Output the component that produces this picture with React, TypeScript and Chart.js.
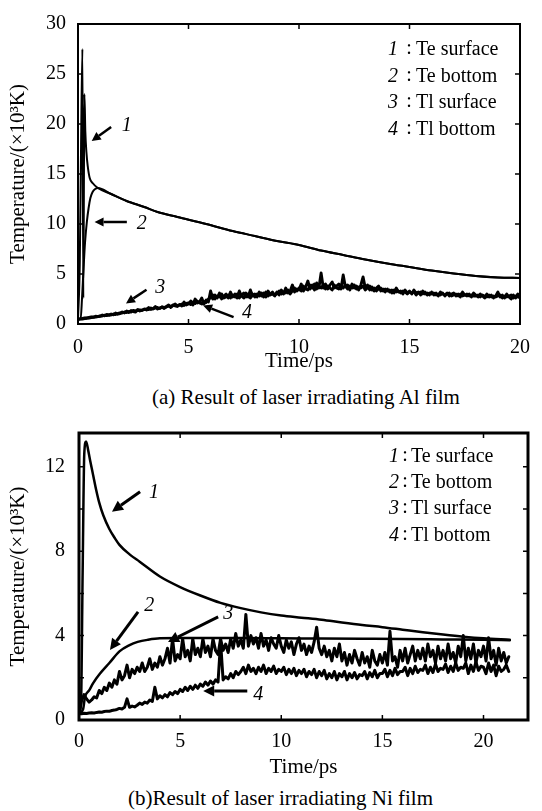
import React, { useEffect, useRef } from 'react';
import { Chart, registerables } from 'chart.js';

Chart.register(...registerables);

const FONT = '"Liberation Serif", "Times New Roman", serif';

// ---------- shared legend ----------
const LEGEND_NUMS = ['1', '2', '3', '4'];
const LEGEND_TEXTS = ['Te surface', 'Te bottom', 'Tl surface', 'Tl bottom'];

// ---------- (a) Al film ----------
const A_X_TICKS = [0, 5, 10, 15, 20];
const A_Y_TICKS = [0, 5, 10, 15, 20, 25, 30];
const A_X_MARKS = [5, 10, 15];
const A_Y_MARKS = [5, 10, 15, 20, 25];

// Te surface, early part (spike)
const A_TE_SURF_T = [0, 0.08, 0.14, 0.2, 0.24, 0.29, 0.33, 0.38, 0.44, 0.53, 0.66];
const A_TE_SURF_V = [0.5, 6, 18, 27.5, 2.6, 23, 19.3, 17.2, 15.8, 14.6, 14.1];
// Te bottom, early part (rise)
const A_TE_BOT_T = [0, 0.12, 0.18, 0.25, 0.32, 0.4, 0.48, 0.56, 0.66, 0.78];
const A_TE_BOT_V = [0.5, 0.5, 2.5, 5.5, 8.2, 10.2, 11.6, 12.6, 13.2, 13.5];
// common tail of both electron temperatures after they merge
const A_TE_TAIL_T = [0.9, 1.5, 2.2, 3, 3.6, 4.5, 5.8, 7, 8, 9, 10, 11, 12, 13, 14, 15, 16, 17, 18, 19, 20];
const A_TE_TAIL_V = [13.6, 13.0, 12.3, 11.7, 11.2, 10.7, 10.0, 9.3, 8.8, 8.3, 7.9, 7.35, 6.9, 6.45, 6.05, 5.7, 5.35, 5.05, 4.8, 4.65, 4.6];

// lattice temperatures, sampled every 0.1 ps from 0 to 20 ps (one row = 1 ps)
const A_TL_STEP = 0.1;
const A_TL_SURF_V = [
  0.5, 0.52, 0.55, 0.6, 0.58, 0.65, 0.7, 0.66, 0.78, 0.74,
  0.8, 0.9, 0.82, 0.95, 0.88, 1.0, 0.92, 1.1, 0.98, 1.05,
  1.2, 1.1, 1.3, 1.15, 1.35, 1.25, 1.2, 1.45, 1.3, 1.4,
  1.5, 1.4, 1.65, 1.45, 1.55, 1.75, 1.5, 1.6, 1.7, 1.55,
  1.75, 1.9, 1.65, 1.85, 2.0, 1.75, 1.95, 1.8, 2.2, 1.9,
  2.0, 2.3, 1.9, 2.5, 2.1, 2.2, 2.6, 2.0, 2.4, 2.2,
  3.3, 2.5, 2.9, 2.6, 3.1, 2.5, 2.8, 3.0, 2.6, 3.2,
  2.7, 3.0, 2.6, 3.3, 2.8, 2.6, 3.1, 2.7, 3.4, 2.8,
  3.0, 2.7, 3.2, 2.8, 3.1, 2.7, 3.3, 2.9, 3.0, 2.8,
  3.2, 2.9, 3.4, 3.0, 3.6, 3.1, 3.3, 3.9, 3.2, 3.5,
  3.4, 4.0, 3.3, 3.7, 4.3, 3.5, 3.9, 3.4, 4.1, 3.6,
  5.1, 3.6, 4.0, 3.5, 3.9, 4.2, 3.6, 3.8, 4.0, 3.5,
  4.9, 3.7, 3.9, 3.4, 4.0, 3.6, 3.8, 3.4, 3.9, 4.7,
  3.6, 3.9, 3.4, 3.7, 3.3, 3.6, 3.8, 3.3, 3.5, 3.2,
  3.5, 3.2, 3.4, 3.1, 3.6, 3.2, 3.3, 3.0, 3.4, 3.1,
  3.3, 3.0, 3.4, 3.1, 3.2, 2.9, 3.3, 3.0, 3.1, 2.9,
  3.2, 2.9, 3.1, 2.8, 3.2, 3.0, 2.9, 3.1, 2.8, 3.0,
  3.1, 2.8, 3.0, 2.7, 3.2, 2.9, 2.8, 3.0, 2.7, 3.1,
  2.9, 2.7, 3.0, 2.8, 2.6, 3.0, 2.7, 2.9, 2.6, 2.8,
  3.2, 2.7, 2.9, 2.6, 3.0, 2.7, 2.5, 2.9, 2.6, 3.0,
  2.6,
];
const A_TL_BOT_V = [
  0.45, 0.5, 0.5, 0.55, 0.6, 0.6, 0.65, 0.7, 0.7, 0.75,
  0.78, 0.8, 0.88, 0.85, 0.92, 0.9, 1.0, 0.95, 1.05, 1.1,
  1.1, 1.2, 1.15, 1.25, 1.2, 1.35, 1.3, 1.35, 1.4, 1.35,
  1.45, 1.5, 1.45, 1.6, 1.5, 1.6, 1.65, 1.55, 1.7, 1.65,
  1.7, 1.8, 1.75, 1.9, 1.8, 1.85, 1.9, 2.0, 1.85, 2.05,
  2.1, 1.95, 2.2, 2.05, 2.3, 2.1, 2.0, 2.25, 2.15, 2.5,
  2.6, 2.9, 2.5, 2.8, 2.7, 3.0, 2.6, 2.7, 2.9, 2.6,
  2.9, 2.7, 3.0, 2.6, 2.9, 3.1, 2.7, 3.0, 2.6, 3.0,
  2.7, 3.0, 2.8, 3.1, 2.7, 3.2, 2.8, 3.0, 3.2, 2.9,
  3.0, 3.3, 3.0, 3.2, 3.1, 3.4, 3.0, 3.3, 3.6, 3.3,
  3.6, 3.3, 3.8, 3.5, 3.4, 3.9, 3.6, 4.0, 3.5, 3.8,
  3.6, 3.9, 3.5, 3.8, 3.6, 3.4, 3.9, 3.6, 3.5, 3.9,
  3.6, 3.9, 3.5, 3.8, 3.6, 3.9, 3.5, 3.7, 3.6, 3.8,
  3.4, 3.6, 3.8, 3.4, 3.6, 3.3, 3.5, 3.6, 3.3, 3.5,
  3.3, 3.4, 3.1, 3.4, 3.2, 3.3, 3.1, 3.3, 3.2, 3.0,
  3.2, 3.1, 3.2, 2.9, 3.1, 3.2, 3.0, 3.2, 2.9, 3.1,
  3.0, 3.1, 2.9, 3.0, 2.9, 3.1, 2.8, 3.0, 3.1, 2.8,
  2.9, 3.0, 2.8, 3.0, 2.8, 2.9, 3.0, 2.8, 2.9, 2.8,
  2.8, 2.9, 2.7, 2.9, 2.8, 2.7, 2.9, 2.7, 2.8, 2.7,
  2.8, 2.9, 2.6, 2.8, 2.7, 2.8, 2.9, 2.6, 2.8, 2.7,
  2.7,
];

// annotation arrows for (a), in data units [time, temperature]
const A_ARROW_TAIL = [[1.5, 19.7], [2.21, 10.2], [3.1, 3.43], [7.04, 0.69]];
const A_ARROW_HEAD = [[0.62, 18.3], [0.75, 10.2], [2.17, 2.06], [5.66, 1.86]];
const A_ARROW_LABEL = [[2.21, 19.8], [2.88, 10.0], [3.72, 3.63], [7.65, 1.08]];

// ---------- (b) Ni film ----------
const B_X_TICKS = [0, 5, 10, 15, 20];
const B_Y_TICKS = [0, 4, 8, 12];
const B_X_MARKS = [5, 10, 15, 20];
const B_Y_MARKS = [2, 4, 6, 8, 10, 12];

const B_TE_SURF_T = [0, 0.1, 0.18, 0.26, 0.35, 0.45, 0.55, 0.7, 0.85, 1.0, 1.2, 1.5, 1.75, 2.0, 2.5, 3, 4, 5, 6, 7, 8, 9, 10, 11, 12, 13, 14, 15, 16, 17, 18, 19, 20, 21.3];
const B_TE_SURF_V = [0.3, 0.8, 7, 12.6, 13.2, 12.8, 12.3, 11.6, 10.9, 10.3, 9.7, 9.05, 8.65, 8.3, 7.85, 7.5, 6.8, 6.3, 5.9, 5.55, 5.3, 5.1, 4.95, 4.85, 4.75, 4.62, 4.5, 4.4, 4.28, 4.16, 4.05, 3.95, 3.87, 3.8];

const B_TE_BOT_T = [0, 0.2, 0.3, 0.5, 0.7, 1.04, 1.5, 2.0, 2.5, 2.9, 3.4, 4.0, 5, 6, 8, 10, 12, 14, 16, 18, 20, 21.3];
const B_TE_BOT_V = [0.3, 0.5, 1.1, 1.4, 1.75, 2.2, 2.7, 3.25, 3.55, 3.7, 3.8, 3.87, 3.88, 3.88, 3.88, 3.87, 3.86, 3.85, 3.84, 3.82, 3.8, 3.78];

// lattice temperatures, sampled every 0.125 ps from 0 to 21.25 ps (one row = 1 ps)
const B_TL_STEP = 0.125;
const B_TL_SURF_V = [
  0.3, 0.9, 1.2, 1.0, 0.85, 0.95, 1.1, 1.05,
  1.4, 1.25, 1.55, 1.4, 1.75, 1.55, 1.9, 1.7,
  2.3, 1.9, 2.1, 2.6, 2.0, 2.4, 2.2, 2.5,
  2.3, 2.7, 2.3, 2.5, 2.9, 2.4, 2.7, 2.5,
  3.0, 2.6, 2.9, 3.4, 2.7, 3.85, 2.8, 3.1,
  2.9, 3.85, 3.0, 3.3, 2.8, 3.85, 3.1, 3.4,
  3.0, 3.85, 3.2, 3.5, 3.0, 3.85, 3.3, 3.1,
  3.85, 3.3, 3.6, 3.2, 3.85, 3.4, 4.1, 3.5,
  3.8, 3.4, 5.0, 3.5, 4.0, 3.6, 3.9, 3.4,
  4.1, 3.5, 3.8, 3.3, 3.9, 3.6, 3.4, 4.0,
  3.5, 3.2, 3.8, 3.4, 3.7, 3.1, 3.6, 3.9,
  3.3, 3.6, 3.1, 3.5, 3.2, 3.7, 4.4, 3.4,
  3.1, 3.5, 3.0, 3.3, 2.8, 3.4, 3.0, 3.6,
  2.8, 3.2, 2.6, 3.1, 2.7, 3.3, 2.9, 2.6,
  3.2, 2.7, 3.0, 2.5, 3.3, 2.8, 2.6, 3.1,
  2.7, 3.2, 2.6, 4.2, 2.8, 3.0, 2.5, 3.3,
  2.8, 3.4, 2.7, 3.1, 3.5, 2.8, 3.3, 2.9,
  3.4, 2.8, 3.6, 3.0, 3.3, 2.7, 3.5, 2.9,
  3.3, 2.8, 3.6, 2.9, 3.2, 2.7, 3.5, 3.0,
  4.0, 2.8, 3.4, 2.9, 3.6, 2.7, 3.3, 3.0,
  3.5, 2.8, 3.9, 2.9, 3.3, 2.6, 3.4, 2.8,
  3.2, 2.7, 3.0,
];
const B_TL_BOT_V = [
  0.3, 0.3, 0.32, 0.31, 0.33, 0.34, 0.33, 0.36,
  0.38, 0.37, 0.4, 0.42, 0.41, 0.45, 0.47, 0.5,
  0.55, 0.52, 0.6, 1.0, 0.6, 0.66, 0.62, 0.7,
  0.8, 0.74, 0.85, 0.8, 0.95, 0.88, 1.55, 1.0,
  1.15, 1.05, 1.2, 1.1, 1.3, 1.2, 1.35, 1.25,
  1.45, 1.35, 1.55, 1.4, 1.6, 1.45, 1.65, 1.5,
  1.7, 1.6, 1.8, 1.65, 1.85, 1.7, 1.9, 1.8,
  3.7, 1.9, 2.05, 1.95, 2.2, 2.0, 2.3, 2.15,
  2.3, 2.5, 2.2, 2.6, 2.3, 2.45, 2.2, 2.5,
  2.3, 2.6, 2.2, 2.45, 2.3, 2.55, 2.2, 2.4,
  2.3, 2.5, 2.15, 2.4, 2.2, 2.45, 2.1, 2.35,
  2.2, 2.4, 2.05, 2.3, 2.15, 2.4, 2.0, 2.3,
  2.1, 2.35, 1.95, 2.2, 2.0, 2.3, 1.9, 2.2,
  2.05, 2.3, 1.9, 2.2, 2.0, 2.25, 1.95, 2.15,
  2.1, 2.3, 1.95, 2.25, 2.05, 2.35, 2.0, 2.2,
  2.2, 2.4, 2.05, 2.35, 2.1, 2.45, 2.15, 2.3,
  2.3, 2.5, 2.1, 2.45, 2.2, 2.55, 2.25, 2.4,
  2.35, 2.6, 2.2, 2.5, 2.25, 2.65, 2.3, 2.45,
  2.4, 2.65, 2.25, 2.55, 2.3, 2.7, 2.35, 2.5,
  2.45, 2.7, 2.2, 2.6, 2.3, 2.75, 2.35, 2.55,
  2.5, 2.2, 2.7, 2.3, 2.6, 2.1, 2.55, 2.3,
  2.4, 2.6, 2.3,
];

const B_ARROW_TAIL = [[3.02, 10.82], [2.92, 5.12], [6.88, 4.89], [8.32, 1.38]];
const B_ARROW_HEAD = [[1.63, 9.87], [1.53, 3.32], [4.4, 3.7], [6.14, 1.38]];
const B_ARROW_LABEL = [[3.71, 10.77], [3.47, 5.41], [7.38, 5.03], [8.86, 1.19]];

// ---------- helpers ----------
const toPts = (t: number[], v: number[]) => v.map((y, i) => ({ x: t[i], y }));
const stepPts = (step: number, v: number[]) => v.map((y, i) => ({ x: +(i * step).toFixed(3), y }));

const lineDs = (data: { x: number; y: number }[], width: number, smooth: boolean) => ({
  data,
  showLine: true,
  borderColor: '#000',
  backgroundColor: '#000',
  borderWidth: width,
  pointRadius: 0,
  borderJoinStyle: 'round' as const,
  borderCapStyle: 'round' as const,
  tension: smooth ? 0.4 : 0,
  cubicInterpolationMode: smooth ? ('monotone' as const) : ('default' as const),
  fill: false,
});

const framePlugin = (o: { width: number; len: number; xMarks: number[]; yMarks: number[] }) => ({
  id: 'frameTicks',
  afterDatasetsDraw(chart: any) {
    const { ctx, chartArea, scales } = chart;
    const { left, top, right, bottom } = chartArea;
    ctx.save();
    ctx.strokeStyle = '#000';
    ctx.lineWidth = 1.5;
    ctx.beginPath();
    o.xMarks.forEach((v) => {
      const px = scales.x.getPixelForValue(v);
      ctx.moveTo(px, bottom);
      ctx.lineTo(px, bottom - o.len);
      ctx.moveTo(px, top);
      ctx.lineTo(px, top + o.len);
    });
    o.yMarks.forEach((v) => {
      const py = scales.y.getPixelForValue(v);
      ctx.moveTo(left, py);
      ctx.lineTo(left + o.len, py);
      ctx.moveTo(right, py);
      ctx.lineTo(right - o.len, py);
    });
    ctx.stroke();
    ctx.lineWidth = o.width;
    ctx.strokeRect(left, top, right - left, bottom - top);
    ctx.restore();
  },
});

const annotPlugin = (o: {
  tails: number[][];
  heads: number[][];
  labels: number[][];
  arrowWidth: number;
  headLen: number;
  headHalf: number;
  legendRows: number[];
  numRight: number;
  colonX: number;
  textX: number;
}) => ({
  id: 'annotations',
  afterDraw(chart: any) {
    const { ctx, scales } = chart;
    const X = (v: number) => scales.x.getPixelForValue(v);
    const Y = (v: number) => scales.y.getPixelForValue(v);
    ctx.save();
    ctx.fillStyle = '#000';
    ctx.strokeStyle = '#000';
    o.tails.forEach((tail, i) => {
      const head = o.heads[i];
      const x1 = X(tail[0]), y1 = Y(tail[1]);
      const x2 = X(head[0]), y2 = Y(head[1]);
      const ang = Math.atan2(y2 - y1, x2 - x1);
      const bx = x2 - o.headLen * Math.cos(ang);
      const by = y2 - o.headLen * Math.sin(ang);
      ctx.lineWidth = o.arrowWidth;
      ctx.beginPath();
      ctx.moveTo(x1, y1);
      ctx.lineTo(bx, by);
      ctx.stroke();
      ctx.beginPath();
      ctx.moveTo(x2, y2);
      ctx.lineTo(bx + o.headHalf * Math.sin(ang), by - o.headHalf * Math.cos(ang));
      ctx.lineTo(bx - o.headHalf * Math.sin(ang), by + o.headHalf * Math.cos(ang));
      ctx.closePath();
      ctx.fill();
    });
    ctx.font = `italic 20px ${FONT}`;
    ctx.textAlign = 'center';
    ctx.textBaseline = 'middle';
    o.labels.forEach((p, i) => {
      ctx.fillText(LEGEND_NUMS[i], X(p[0]), Y(p[1]));
    });
    o.legendRows.forEach((y, i) => {
      ctx.font = `italic 20px ${FONT}`;
      ctx.textAlign = 'right';
      ctx.fillText(LEGEND_NUMS[i], o.numRight, y);
      ctx.font = `20px ${FONT}`;
      ctx.textAlign = 'center';
      ctx.fillText(':', o.colonX, y - 1);
      ctx.textAlign = 'left';
      ctx.fillText(LEGEND_TEXTS[i], o.textX, y);
    });
    ctx.restore();
  },
});

const tickFont = { family: FONT, size: 20 };
const titleFont = { family: FONT, size: 21 };

function configA(): any {
  return {
    type: 'scatter',
    data: {
      datasets: [
        lineDs(stepPts(A_TL_STEP, A_TL_BOT_V), 2.9, false),
        lineDs(stepPts(A_TL_STEP, A_TL_SURF_V), 2.9, false),
        lineDs(toPts(A_TE_BOT_T.concat(A_TE_TAIL_T), A_TE_BOT_V.concat(A_TE_TAIL_V)), 2, true),
        lineDs(toPts(A_TE_SURF_T.concat(A_TE_TAIL_T), A_TE_SURF_V.concat(A_TE_TAIL_V)), 2, true),
      ],
    },
    options: {
      animation: false,
      responsive: false,
      events: [],
      layout: { padding: { top: 18, right: 12, left: 0, bottom: 0 } },
      plugins: { legend: { display: false }, tooltip: { enabled: false }, title: { display: false } },
      scales: {
        x: {
          type: 'linear',
          min: 0,
          max: 20,
          afterBuildTicks: (s: any) => {
            s.ticks = A_X_TICKS.map((value) => ({ value }));
          },
          grid: { display: false, drawTicks: false },
          border: { display: false },
          ticks: { color: '#000', font: tickFont, padding: 12, maxRotation: 0 },
          title: { display: true, text: 'Time/ps', color: '#000', font: titleFont, padding: { top: 0, bottom: 8 } },
          afterFit: (s: any) => {
            s.height = 58;
          },
        },
        y: {
          type: 'linear',
          min: 0,
          max: 30,
          afterBuildTicks: (s: any) => {
            s.ticks = A_Y_TICKS.map((value) => ({ value }));
          },
          grid: { display: false, drawTicks: false },
          border: { display: false },
          ticks: { color: '#000', font: tickFont, padding: 12 },
          title: { display: true, text: 'Temperature/(×10³K)', color: '#000', font: titleFont, padding: { top: 6, bottom: 0 } },
          afterFit: (s: any) => {
            s.width = 78;
          },
        },
      },
    },
    plugins: [
      framePlugin({ width: 2, len: 5, xMarks: A_X_MARKS, yMarks: A_Y_MARKS }),
      annotPlugin({
        tails: A_ARROW_TAIL,
        heads: A_ARROW_HEAD,
        labels: A_ARROW_LABEL,
        arrowWidth: 2.5,
        headLen: 9,
        headHalf: 4.5,
        legendRows: [50, 77, 103, 130],
        numRight: 398,
        colonX: 409,
        textX: 416,
      }),
    ],
  };
}

function configB(): any {
  return {
    type: 'scatter',
    data: {
      datasets: [
        lineDs(stepPts(B_TL_STEP, B_TL_BOT_V), 3, false),
        lineDs(stepPts(B_TL_STEP, B_TL_SURF_V), 3, false),
        lineDs(toPts(B_TE_BOT_T, B_TE_BOT_V), 2.5, true),
        lineDs(toPts(B_TE_SURF_T, B_TE_SURF_V), 2.5, true),
      ],
    },
    options: {
      animation: false,
      responsive: false,
      events: [],
      layout: { padding: { top: 28, right: 14, left: 0, bottom: 0 } },
      plugins: { legend: { display: false }, tooltip: { enabled: false }, title: { display: false } },
      scales: {
        x: {
          type: 'linear',
          min: 0,
          max: 22.2,
          afterBuildTicks: (s: any) => {
            s.ticks = B_X_TICKS.map((value) => ({ value }));
          },
          grid: { display: false, drawTicks: false },
          border: { display: false },
          ticks: { color: '#000', font: tickFont, padding: 10, maxRotation: 0 },
          title: { display: true, text: 'Time/ps', color: '#000', font: titleFont, padding: { top: 0, bottom: 0 } },
          afterFit: (s: any) => {
            s.height = 60;
          },
        },
        y: {
          type: 'linear',
          min: 0,
          max: 13.6,
          afterBuildTicks: (s: any) => {
            s.ticks = B_Y_TICKS.map((value) => ({ value }));
          },
          grid: { display: false, drawTicks: false },
          border: { display: false },
          ticks: { color: '#000', font: tickFont, padding: 14 },
          title: { display: true, text: 'Temperature/(×10³K)', color: '#000', font: titleFont, padding: { top: 6, bottom: 0 } },
          afterFit: (s: any) => {
            s.width = 79;
          },
        },
      },
    },
    plugins: [
      framePlugin({ width: 3, len: 5, xMarks: B_X_MARKS, yMarks: B_Y_MARKS }),
      annotPlugin({
        tails: B_ARROW_TAIL,
        heads: B_ARROW_HEAD,
        labels: B_ARROW_LABEL,
        arrowWidth: 3,
        headLen: 11,
        headHalf: 5.5,
        legendRows: [52, 78, 104, 131],
        numRight: 399,
        colonX: 405,
        textX: 411,
      }),
    ],
  };
}

const captionStyle = (top: number, left: number): React.CSSProperties => ({
  position: 'absolute',
  left,
  top,
  fontFamily: FONT,
  fontSize: 21,
  lineHeight: '24px',
  color: '#000',
  whiteSpace: 'nowrap',
});

export default function App() {
  const refA = useRef<HTMLCanvasElement>(null);
  const refB = useRef<HTMLCanvasElement>(null);

  useEffect(() => {
    const a = new Chart(refA.current as HTMLCanvasElement, configA());
    const b = new Chart(refB.current as HTMLCanvasElement, configB());
    return () => {
      a.destroy();
      b.destroy();
    };
  }, []);

  return (
    <div style={{ position: 'absolute', left: 0, top: 0, width: 542, height: 811, background: '#fff' }}>
      <canvas ref={refA} width={542} height={382} style={{ position: 'absolute', left: 0, top: 0 }} />
      <div style={captionStyle(385, 152)}>(a) Result of laser irradiating Al film</div>
      <canvas ref={refB} width={542} height={375} style={{ position: 'absolute', left: 0, top: 405 }} />
      <div style={captionStyle(786, 128)}>(b)Result of laser irradiating Ni film</div>
    </div>
  );
}
